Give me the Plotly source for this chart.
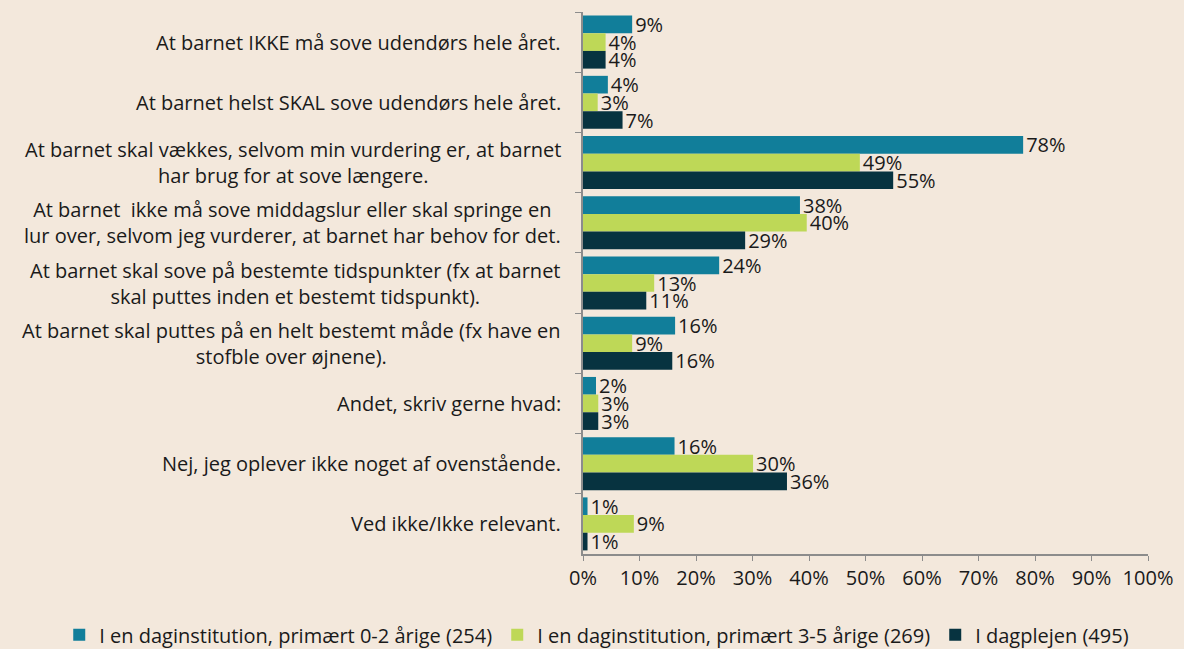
import plotly.graph_objects as go

categories = [
    "At barnet IKKE må sove udendørs hele året.",
    "At barnet helst SKAL sove udendørs hele året.",
    "At barnet skal vækkes, selvom min vurdering er, at barnet<br>har brug for at sove længere.",
    "At barnet  ikke må sove middagslur eller skal springe en<br>lur over, selvom jeg vurderer, at barnet har behov for det.",
    "At barnet skal sove på bestemte tidspunkter (fx at barnet<br>skal puttes inden et bestemt tidspunkt).",
    "At barnet skal puttes på en helt bestemt måde (fx have en<br>stofble over øjnene).",
    "Andet, skriv gerne hvad:",
    "Nej, jeg oplever ikke noget af ovenstående.",
    "Ved ikke/Ikke relevant.",
]
series_names = [
    "I en daginstitution, primært 0-2 årige (254)",
    "I en daginstitution, primært 3-5 årige (269)",
    "I dagplejen (495)",
]
vals_0_2 = [8.7, 4.4, 77.9, 38.4, 24.1, 16.3, 2.3, 16.2, 0.8]
vals_3_5 = [4.0, 2.6, 49.0, 39.6, 12.6, 8.7, 2.7, 30.1, 9.0]
vals_dagpleje = [4.0, 7.0, 54.9, 28.7, 11.2, 15.8, 2.7, 36.1, 0.8]
x_ticks = [0, 10, 20, 30, 40, 50, 60, 70, 80, 90, 100]

colors = ["#117E9A", "#BED857", "#073340"]
bg = "#F3E8DC"
font_family = "Open Sans, Noto Sans, sans-serif"

fig = go.Figure()
for name, vals, col in zip(series_names, [vals_0_2, vals_3_5, vals_dagpleje], colors):
    fig.add_trace(go.Bar(
        y=categories, x=vals, name=name, orientation="h",
        marker=dict(color=col, line=dict(width=0)),
        text=[f"{round(v):d}%" for v in vals],
        textposition="outside",
        constraintext="none",
        textfont=dict(size=20, color="#1a1a1a", family=font_family),
        cliponaxis=False,
    ))

for c in categories:
    fig.add_annotation(
        x=0, xref="paper", xanchor="right", xshift=-20,
        y=c, yref="y", text=c, showarrow=False, align="center",
        font=dict(size=20, color="#1a1a1a", family=font_family),
    )

fig.update_layout(
    width=1184, height=649,
    paper_bgcolor=bg, plot_bgcolor=bg,
    margin=dict(l=583, r=36, t=12, b=95, autoexpand=False),
    barmode="group", bargap=0.12, bargroupgap=0,
    font=dict(family=font_family, size=20, color="#1a1a1a"),
    showlegend=True,
    legend=dict(
        orientation="h", xref="paper", x=-0.927, xanchor="left",
        y=-0.113, yanchor="top", font=dict(size=20),
        bgcolor="rgba(0,0,0,0)", itemwidth=30,
    ),
)
fig.update_xaxes(
    range=[0, 100], tickvals=x_ticks, ticktext=[f"{t}%" for t in x_ticks],
    showgrid=False, zeroline=False,
    showline=True, linecolor="#8c8c8c", linewidth=2,
    ticks="outside", ticklen=5, tickcolor="#8c8c8c", tickwidth=1,
    tickfont=dict(size=20),
)
fig.update_yaxes(
    autorange="reversed", showticklabels=False, showgrid=False,
    showline=True, linecolor="#8c8c8c", linewidth=2,
    ticks="outside", ticklen=6, tickcolor="#8c8c8c", tickwidth=1,
    tickson="boundaries",
)

fig.write_html(
    "out.html",
    config={"displayModeBar": False},
    post_script="document.body.style.margin='0';document.body.style.padding='0';",
)
